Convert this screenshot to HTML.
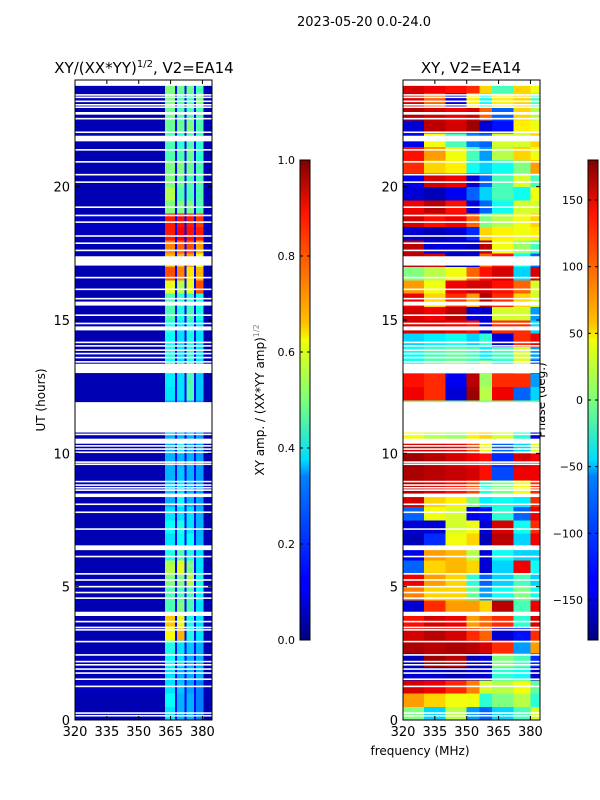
<!DOCTYPE html>
<html><head><meta charset="utf-8">
<style>
html,body{margin:0;padding:0;background:#fff;}
svg{display:block;font-family:"DejaVu Sans","Liberation Sans",sans-serif;}
</style></head>
<body>
<svg id="fig" width="600" height="800" viewBox="0 0 600 800" xmlns="http://www.w3.org/2000/svg">
<defs>
<linearGradient id="jetv" x1="0" y1="1" x2="0" y2="0">
<stop offset="0" stop-color="#00007f"/><stop offset="0.11" stop-color="#0000ff"/><stop offset="0.125" stop-color="#0000ff"/>
<stop offset="0.34" stop-color="#0080ff"/><stop offset="0.375" stop-color="#00dcff"/><stop offset="0.5" stop-color="#7dff7a"/>
<stop offset="0.625" stop-color="#f0ff07"/><stop offset="0.66" stop-color="#ffc000"/><stop offset="0.89" stop-color="#ff1300"/>
<stop offset="1" stop-color="#7f0000"/>
</linearGradient>
</defs>
<text x="364" y="26" font-size="13" text-anchor="middle">2023-05-20 0.0-24.0</text>
<text x="144" y="73" font-size="15" text-anchor="middle">XY/(XX*YY)<tspan font-size="10" dy="-6">1/2</tspan><tspan dy="6">, V2=EA14</tspan></text>
<text x="471" y="73" font-size="15" text-anchor="middle">XY, V2=EA14</text>
<text x="420" y="755" font-size="12" text-anchor="middle">frequency (MHz)</text>
<text transform="translate(45,400) rotate(-90)" font-size="12" text-anchor="middle">UT (hours)</text>
<text transform="translate(264,400) rotate(-90)" font-size="12" text-anchor="middle">XY amp. / (XX*YY amp)<tspan font-size="8" dy="-5" fill="#888">1/2</tspan></text>
<text transform="translate(545,400) rotate(-90)" font-size="12" text-anchor="middle">Phase (deg.)</text>
<g id="left"></g>
<g id="right"></g>
<g id="axes"></g>
<rect x="300" y="160" width="10" height="480" fill="url(#jetv)" stroke="#000" stroke-width="1"/>
<rect x="588" y="160" width="10" height="480" fill="url(#jetv)" stroke="#000" stroke-width="1"/>
<g id="cbticks"></g>
</svg>
<script>
// ---- data ----
const hourTicks = [0,5,10,15,20];
const freqTicks = [320,335,350,365,380];
const ampTicks = [0.0,0.2,0.4,0.6,0.8,1.0];
const ampTickLabels = ["0.0","0.2","0.4","0.6","0.8","1.0"];
const phaseTicks = [-150,-100,-50,0,50,100,150];
const phaseTickLabels = ["\u2212150","\u2212100","\u221250","0","50","100","150"];
// amplitude panel frequency bands (MHz edges): background, stripe1, dark, stripe2, dark, stripe3, dark, stripe4, dark
const ampBandEdges = [320,362.3,367,368,371.5,372.5,376,377,380.5,384.5];
const ampBg = [0.05,0.05,0.06,0.05,0.06,0.05,0.05,0.05,0.05,0.05,0.05,0.05,0.05,0.05,0.05,0.05,0.05,0.05,0.05,0.05,0.05,0.05,0.05,0.05,0.05,0.05,0.05,0.05,0.05,0.05,0.05,0.05,0.05,0.05,0.05,0.05,0.06,0.07,0.05,0.05,0.05,0.05,0.05,0.05,0.05,0.05,0.05,0.05];
const ampS1 = [0.35,0.38,0.35,0.35,0.38,0.4,0.62,0.68,0.45,0.45,0.5,0.55,0.4,0.35,0.38,0.35,0.3,0.32,0.3,0.3,0.3,0.3,0.3,0.3,0.35,0.36,0.38,0.4,0.38,0.4,0.45,0.45,0.6,0.8,0.7,0.75,0.85,0.85,0.5,0.55,0.5,0.5,0.45,0.45,0.48,0.48,0.5,0.5];
const ampS2 = [0.3,0.3,0.32,0.3,0.35,0.35,0.7,0.6,0.5,0.45,0.5,0.6,0.45,0.38,0.4,0.35,0.38,0.35,0.32,0.3,0.4,0.3,0.3,0.3,0.35,0.35,0.35,0.35,0.35,0.35,0.4,0.42,0.55,0.75,0.7,0.78,0.88,0.86,0.5,0.45,0.48,0.5,0.45,0.42,0.48,0.45,0.45,0.48];
const ampS3 = [0.3,0.3,0.28,0.3,0.3,0.32,0.4,0.4,0.45,0.45,0.55,0.5,0.4,0.38,0.35,0.35,0.3,0.3,0.3,0.3,0.3,0.3,0.3,0.3,0.45,0.45,0.4,0.42,0.4,0.4,0.45,0.42,0.6,0.65,0.72,0.8,0.86,0.85,0.5,0.45,0.45,0.48,0.48,0.45,0.5,0.45,0.45,0.48];
const ampS4 = [0.25,0.25,0.25,0.3,0.3,0.3,0.35,0.35,0.35,0.38,0.4,0.35,0.35,0.3,0.3,0.3,0.28,0.28,0.28,0.28,0.28,0.28,0.28,0.28,0.32,0.32,0.35,0.35,0.35,0.35,0.4,0.4,0.8,0.7,0.6,0.72,0.85,0.82,0.45,0.45,0.45,0.45,0.42,0.42,0.45,0.45,0.5,0.45];
const ampDark = 0.13;
// phase panel frequency bands (MHz edges)
const phaseBandEdges = [320,330,340,350,356,362,372,380,384.5];
const phaseRows = [
[0,-60,20,-80,-100,-60,-20,30],
[80,60,40,40,-30,0,20,-30],
[150,140,120,90,30,20,40,-10],
[-150,-150,-160,-150,-150,-30,-40,-150],
[-160,170,160,-160,-150,0,-20,-120],
[165,160,165,160,150,120,-80,80],
[150,160,150,120,100,-150,-130,120],
[130,150,140,80,100,120,-30,150],
[-150,120,80,80,60,160,-20,140],
[90,60,60,-10,-80,-40,0,-40],
[140,80,60,-30,-100,-60,-20,-60],
[-100,60,70,60,-150,-60,140,-40],
[-140,80,70,20,-150,-40,-60,-60],
[-160,-120,40,60,-160,160,-60,140],
[-150,-150,30,40,-150,150,-40,120],
[-100,40,30,-140,-130,-30,-100,140],
[150,60,50,0,-50,-40,-50,120],
[160,150,130,110,-30,0,40,120],
[165,160,155,150,130,-110,140,140],
[170,160,150,140,130,-120,150,140],
[150,150,140,110,40,-100,-60,30],
[40,20,10,50,60,30,-30,-150],
[0,0,0,0,0,0,0,0],
[0,0,0,0,0,0,0,0],
[140,120,-150,170,20,140,-100,-60],
[130,120,-140,160,10,120,120,-80],
[-40,-10,0,-20,20,-40,40,-120],
[-40,-20,-10,-20,-50,-20,30,-80],
[-60,-50,-40,-60,-30,-150,120,140],
[150,150,140,130,-150,120,120,-60],
[150,140,160,-150,-150,30,30,-80],
[140,60,120,80,160,120,60,30],
[80,40,140,150,150,130,100,30],
[0,20,40,100,130,150,-60,150],
[160,150,-160,-150,100,130,-40,-100],
[160,-150,-150,-160,160,40,10,-20],
[-150,-160,-150,-120,60,50,40,50],
[150,130,140,100,0,20,40,60],
[140,160,130,-150,-100,-40,30,30],
[-150,-160,-140,-100,-60,-20,-40,40],
[-140,150,140,-150,-100,-20,30,-20],
[120,60,50,-40,-60,-40,0,80],
[130,80,40,-20,-80,20,60,40],
[-140,40,-20,-90,-100,30,30,60],
[-150,160,150,170,-150,-130,50,40],
[160,150,140,150,100,-100,60,20],
[150,100,-150,50,-40,50,60,-20],
[150,140,130,120,60,-20,60,40]
];
// flagged (blank) time intervals in hours
const gapStart = [23.78,23.41,23.32,23.17,23.04,22.95,22.7,22.52,22.01,21.7,21.35,20.9,20.42,20.14,19.2,18.89,18.64,18.12,17.85,17.58,17.04,16.56,16.12,15.77,15.54,15.15,14.84,14.61,14.13,14.0,13.84,13.71,13.56,13.4,13.01,10.78,10.68,10.36,10.25,10.13,10.01,9.64,9.56,8.91,8.78,8.68,8.59,8.36,8.06,7.76,7.13,6.37,6.1,5.45,5.22,4.97,4.75,4.54,3.9,3.66,3.44,3.35,2.91,2.41,2.16,2.04,1.88,1.73,1.5,1.23,0.23,0.13];
const gapEnd   = [24.0,23.47,23.38,23.23,23.1,23.01,22.8,22.58,22.07,21.91,21.41,20.96,20.48,20.2,19.26,18.95,18.7,18.18,17.91,17.64,17.39,16.62,16.18,15.83,15.69,15.21,14.9,14.76,14.19,14.06,13.9,13.77,13.62,13.46,13.36,11.92,10.74,10.55,10.31,10.19,10.07,9.7,9.62,8.97,8.84,8.74,8.65,8.49,8.12,7.82,7.19,6.55,6.16,5.51,5.28,5.03,4.81,4.6,4.06,3.72,3.5,3.41,2.97,2.47,2.22,2.1,1.94,1.79,1.56,1.29,0.29,0.19];

// ---- scales ----
const NS="http://www.w3.org/2000/svg";
const FMIN=320, FMAX=384.5, AX_W=137;
const LX=75, RX=403, Y0=720, Y1=80;
function fx(x0,f){return x0+(f-FMIN)/(FMAX-FMIN)*AX_W;}
function hy(h){return Y0-(h/24)*(Y0-Y1);}
function jet(v){
  v=Math.max(0,Math.min(1,v));
  const r=Math.max(0,Math.min(1,1.5-Math.abs(4*v-3)));
  const g=Math.max(0,Math.min(1,1.5-Math.abs(4*v-2)));
  const b=Math.max(0,Math.min(1,1.5-Math.abs(4*v-1)));
  return "rgb("+Math.round(r*255)+","+Math.round(g*255)+","+Math.round(b*255)+")";
}
function mk(tag,attrs,parent){const e=document.createElementNS(NS,tag);for(const k in attrs)e.setAttribute(k,attrs[k]);parent.appendChild(e);return e;}

const gL=document.getElementById('left');
const gR=document.getElementById('right');
const nRows=48;
for(let i=0;i<nRows;i++){
  const yTop=hy((i+1)/2), yBot=hy(i/2);
  const ampVals=[ampBg[i],ampS1[i],ampDark,ampS2[i],ampDark,ampS3[i],ampDark,ampS4[i],ampBg[i]];
  for(let b=0;b<ampVals.length;b++){
    const x0=fx(LX,ampBandEdges[b]), x1=fx(LX,ampBandEdges[b+1]);
    const r=mk('rect',{x:x0,y:yTop,width:x1-x0+0.3,height:yBot-yTop+0.3,fill:jet(ampVals[b]),'shape-rendering':'crispEdges'},gL);
    
    
  }
  for(let b=0;b<phaseRows[i].length;b++){
    const x0=fx(RX,phaseBandEdges[b]), x1=fx(RX,phaseBandEdges[b+1]);
    const r=mk('rect',{x:x0,y:yTop,width:x1-x0+0.3,height:yBot-yTop+0.3,fill:jet((phaseRows[i][b]+180)/360),'shape-rendering':'crispEdges'},gR);
    
    
  }
}
// blank (flagged) intervals
for(let k=0;k<gapStart.length;k++){
  const yT=hy(gapEnd[k]), yB=hy(gapStart[k]);
  [[LX,gL],[RX,gR]].forEach(([x0,g])=>{
    const r=mk('rect',{x:x0,y:yT,width:AX_W,height:Math.max(1.2,yB-yT),fill:'#fff'},g);
    
    
  });
}
// axes frames & ticks
const gA=document.getElementById('axes');
[LX,RX].forEach((x0,idx)=>{
  const fr=mk('rect',{x:x0,y:Y1,width:AX_W,height:Y0-Y1,fill:'none',stroke:'#000','stroke-width':1},gA);
  
  
  freqTicks.forEach(f=>{
    const x=fx(x0,f);
    mk('line',{x1:x,y1:Y0,x2:x,y2:Y0-4,stroke:'#000'},gA);
    mk('line',{x1:x,y1:Y1,x2:x,y2:Y1+4,stroke:'#000'},gA);
    const t=mk('text',{x:x,y:Y0+16,'font-size':13,'text-anchor':'middle'},gA);
    t.textContent=f;
    
    
  });
  hourTicks.forEach(h=>{
    const y=hy(h);
    mk('line',{x1:x0,y1:y,x2:x0+4,y2:y,stroke:'#000'},gA);
    mk('line',{x1:x0+AX_W,y1:y,x2:x0+AX_W-4,y2:y,stroke:'#000'},gA);
    const t=mk('text',{x:x0-5,y:y+5,'font-size':13,'text-anchor':'end'},gA);
    t.textContent=h;
    
    
  });
});
// colorbar ticks
const gC=document.getElementById('cbticks');
ampTicks.forEach((v,i)=>{
  const y=640-v*480;
  mk('line',{x1:300,y1:y,x2:303,y2:y,stroke:'#000'},gC);
  mk('line',{x1:310,y1:y,x2:307,y2:y,stroke:'#000'},gC);
  const t=mk('text',{x:295,y:y+4,'font-size':11,'text-anchor':'end'},gC);
  t.textContent=ampTickLabels[i];
  
  
});
phaseTicks.forEach((v,i)=>{
  const y=640-(v+180)/360*480;
  mk('line',{x1:588,y1:y,x2:591,y2:y,stroke:'#000'},gC);
  mk('line',{x1:598,y1:y,x2:595,y2:y,stroke:'#000'},gC);
  const t=mk('text',{x:583,y:y+4,'font-size':11,'text-anchor':'end'},gC);
  t.textContent=phaseTickLabels[i];
  
  
});
</script>
</body></html>
